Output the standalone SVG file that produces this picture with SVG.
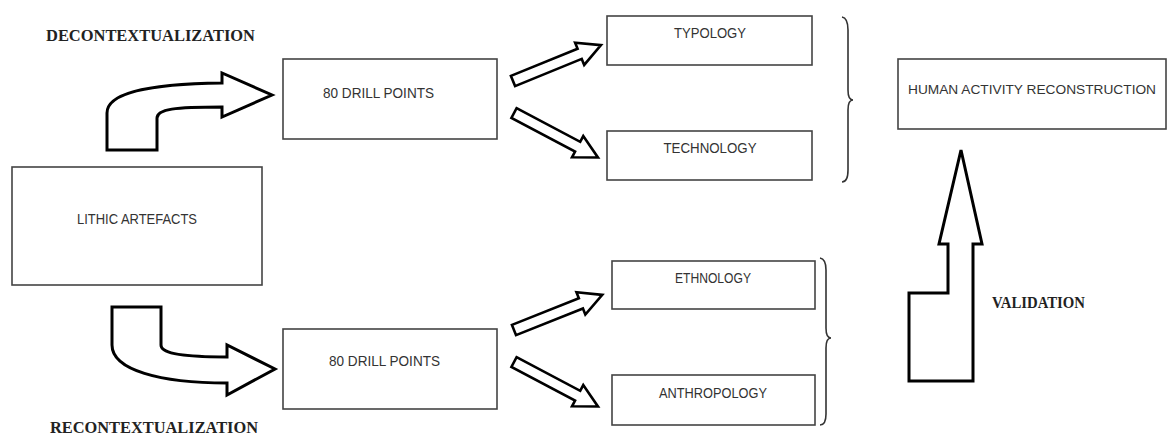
<svg xmlns="http://www.w3.org/2000/svg" width="1171" height="436" viewBox="0 0 1171 436">
<style>
.box{fill:#fff;stroke:#444;stroke-width:1.6}
.lbl{font-family:"Liberation Sans",Arial,sans-serif;font-size:15.5px;fill:#333;text-anchor:middle}
.hd{font-family:"Liberation Serif","Times New Roman",serif;font-weight:bold;font-size:16px;fill:#222}
.arr{fill:#fff;stroke:#000;stroke-width:3;stroke-linejoin:miter}
.sarr{fill:#fff;stroke:#000;stroke-width:2.6;stroke-linejoin:miter}
.brace{fill:none;stroke:#333;stroke-width:1.6}
</style>
<defs>
<polygon id="sa" points="0,-5.5 72,-5.5 72,-12 95,0 72,12 72,5.5 0,5.5"/>
</defs>
<text class="hd" x="46" y="41" textLength="209" lengthAdjust="spacingAndGlyphs">DECONTEXTUALIZATION</text>
<text class="hd" x="50" y="433" textLength="208" lengthAdjust="spacingAndGlyphs">RECONTEXTUALIZATION</text>
<text class="hd" x="992" y="308" textLength="93" lengthAdjust="spacingAndGlyphs">VALIDATION</text>

<g id="lithic"><rect class="box" x="12" y="167" width="250" height="118"/><text class="lbl" x="137" y="224" textLength="120" lengthAdjust="spacingAndGlyphs">LITHIC ARTEFACTS</text></g>
<g id="drill-top"><rect class="box" x="283" y="59" width="214" height="80"/><text class="lbl" x="378.5" y="98" textLength="111" lengthAdjust="spacingAndGlyphs">80 DRILL POINTS</text></g>
<g id="drill-bottom"><rect class="box" x="283" y="329" width="214" height="80"/><text class="lbl" x="384.5" y="366" textLength="111" lengthAdjust="spacingAndGlyphs">80 DRILL POINTS</text></g>
<g id="typology"><rect class="box" x="607" y="16" width="205" height="49"/><text class="lbl" x="710" y="38" textLength="72" lengthAdjust="spacingAndGlyphs">TYPOLOGY</text></g>
<g id="technology"><rect class="box" x="607" y="131" width="205" height="49"/><text class="lbl" x="710" y="153" textLength="93" lengthAdjust="spacingAndGlyphs">TECHNOLOGY</text></g>
<g id="ethnology"><rect class="box" x="612" y="261" width="203" height="48"/><text class="lbl" x="713" y="283" textLength="76" lengthAdjust="spacingAndGlyphs">ETHNOLOGY</text></g>
<g id="anthropology"><rect class="box" x="612" y="375" width="203" height="50"/><text class="lbl" x="713" y="398" textLength="108" lengthAdjust="spacingAndGlyphs">ANTHROPOLOGY</text></g>
<g id="human"><rect class="box" x="898" y="59" width="268" height="70"/><text class="lbl" x="1032" y="94" style="font-size:13.5px" textLength="248" lengthAdjust="spacingAndGlyphs">HUMAN ACTIVITY RECONSTRUCTION</text></g>

<g id="connectors">
<path class="arr" d="M107,150 L107,113 C107,95 140,84 222,83 L222,73 L272,95 L222,117 L222,107 C175,107 157,109 157,118 L157,150 Z"/>
<path class="arr" d="M112,307 L161,307 L161,345 C161,352 175,357 227,357 L227,345 L275,369 L227,395 L227,383 C160,383 112,370 112,345 Z"/>
<use href="#sa" class="sarr" transform="translate(513,81) rotate(-22.2)"/>
<use href="#sa" class="sarr" transform="translate(514,113) rotate(27.9)"/>
<use href="#sa" class="sarr" transform="translate(514,330) rotate(-21.7)"/>
<use href="#sa" class="sarr" transform="translate(514,362) rotate(27.9)"/>
<polygon class="arr" points="961,150 982,244 973,244 973,381 909,381 909,293 948,293 948,244 939,244"/>
<path class="brace" d="M842,17 Q848,18 848,30 L848,90 Q848,100 853,100 Q848,100 848,110 L848,170 Q848,182 842,182"/>
<path class="brace" d="M820,258 Q826,259 826,270 L826,328 Q826,338 831,338 Q826,338 826,348 L826,414 Q826,425 820,425"/>
</g>
</svg>
